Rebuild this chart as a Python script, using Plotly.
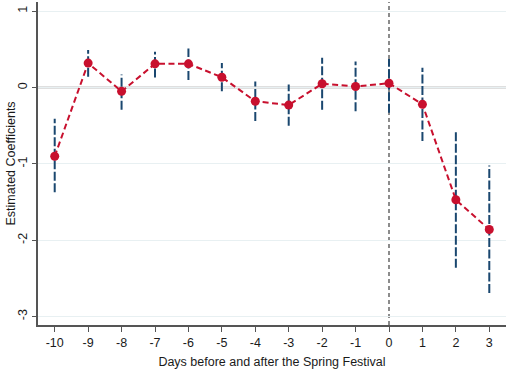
import plotly.graph_objects as go

days = [-10, -9, -8, -7, -6, -5, -4, -3, -2, -1, 0, 1, 2, 3]
coef = [-0.90, 0.32, -0.05, 0.31, 0.31, 0.135, -0.18, -0.23, 0.05, 0.013, 0.056, -0.22, -1.47, -1.86]
ci_hi = [-0.41, 0.49, 0.17, 0.47, 0.51, 0.32, 0.08, 0.04, 0.39, 0.34, 0.375, 0.26, -0.57, -1.02]
ci_lo = [-1.37, 0.14, -0.29, 0.13, 0.10, -0.05, -0.44, -0.50, -0.29, -0.31, -0.33, -0.70, -2.36, -2.69]
xticks = list(range(-10, 4))
yticks = [-3, -2, -1, 0, 1]

NAVY = "#1a476f"
RED = "#c8102e"

fig = go.Figure()

# reference lines
fig.add_hline(y=0, line=dict(color="#7f7f7f", width=1.6), layer="below")
fig.add_vline(x=0, line=dict(color="#707070", width=1.6, dash="4px,3px"), layer="below")

# confidence intervals
for d, lo, hi in zip(days, ci_lo, ci_hi):
    fig.add_trace(go.Scatter(x=[d, d], y=[lo, hi], mode="lines",
                             line=dict(color=NAVY, width=2, dash="9px,2.5px"),
                             showlegend=False, hoverinfo="skip"))

fig.add_trace(go.Scatter(x=days, y=coef, mode="lines+markers",
                         line=dict(color=RED, width=2, dash="6px,3.5px"),
                         marker=dict(color=RED, size=9),
                         showlegend=False))

# y-axis title as a rotated annotation
fig.add_annotation(text="Estimated Coefficients", xref="paper", yref="paper",
                   x=-0.0598, y=0.5, xanchor="center", yanchor="middle",
                   textangle=-90, showarrow=False, font=dict(size=12.5))

fig.update_layout(
    width=510, height=374,
    margin=dict(l=38, r=4, t=2, b=49),
    paper_bgcolor="white", plot_bgcolor="white",
    font=dict(family="Liberation Sans, Arial, sans-serif", color="#1a1a1a", size=12),
    xaxis=dict(range=[-10.5, 3.5], tickvals=xticks, ticktext=[str(t) for t in xticks],
               automargin=False,
               showgrid=False, zeroline=False, showline=True, linecolor="#555555", linewidth=1.5,
               ticks="outside", ticklen=5, tickcolor="#555555", tickwidth=1.2,
               tickfont=dict(size=12.5),
               title=dict(text="Days before and after the Spring Festival", font=dict(size=12.5), standoff=8)),
    yaxis=dict(range=[-3.11, 1.12], tickvals=yticks, ticktext=[str(t) for t in yticks],
               automargin=False,
               showgrid=True, gridcolor="#e8f0f2", gridwidth=1.2, zeroline=False,
               showline=True, linecolor="#555555", linewidth=1.5,
               ticks="outside", ticklen=4, tickcolor="#555555", tickwidth=1.2,
               tickangle=-90, tickfont=dict(size=12.5)),
)

# remove the browser's default 8px body margin so the figure sits at the page corner
fig.write_html("out.html", config={"displayModeBar": False},
               post_script="document.body.style.margin='0';")
